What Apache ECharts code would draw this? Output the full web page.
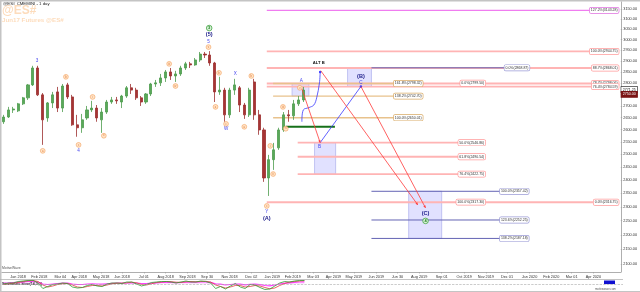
<!DOCTYPE html>
<html>
<head>
<meta charset="utf-8">
<script src="https://cdn.jsdelivr.net/npm/echarts@6.0.0/dist/echarts.min.js"></script>
<style>
html,body{margin:0;padding:0;background:#ffffff;}
#chart{width:640px;height:292px;}
</style>
</head>
<body>
<div id="chart"></div>
<script>
// ---------- weekly price bars (@ES#) ----------
const weekDates = ['2017-12-13','2017-12-20','2017-12-27','2018-01-03','2018-01-10','2018-01-17','2018-01-24','2018-01-31',
 '2018-02-07','2018-02-14','2018-02-21','2018-02-28','2018-03-07','2018-03-14','2018-03-21','2018-03-28',
 '2018-04-04','2018-04-11','2018-04-18','2018-04-25','2018-05-02','2018-05-09','2018-05-16','2018-05-23','2018-05-30',
 '2018-06-06','2018-06-13','2018-06-20','2018-06-27','2018-07-04','2018-07-11','2018-07-18','2018-07-25',
 '2018-08-01','2018-08-08','2018-08-15','2018-08-22','2018-08-29','2018-09-05','2018-09-12','2018-09-19','2018-09-26',
 '2018-10-03','2018-10-10','2018-10-17','2018-10-24','2018-10-31','2018-11-07','2018-11-14','2018-11-21','2018-11-28',
 '2018-12-05','2018-12-12','2018-12-19','2018-12-26','2019-01-02','2019-01-09','2019-01-16','2019-01-23','2019-01-30',
 '2019-02-06','2019-02-13'];
const openP  = [2633,2653,2683,2679,2709,2735,2792,2868,2748,2649,2713,2761,2691,2792,2739,2620,2608,2649,2683,2691,2641,2674,2717,2726,2717,
 2743,2779,2769,2735,2717,2752,2796,2801,2823,2850,2832,2841,2868,2887,2882,2905,2932,2928,2891,2761,2769,2662,2769,2779,2704,2662,
 2805,2662,2599,2408,2479,2526,2599,2662,2658,2709,2726];
const closeP = [2653,2683,2687,2709,2735,2792,2868,2748,2641,2713,2748,2691,2787,2739,2620,2608,2641,2683,2691,2649,2674,2717,2726,2722,2743,
 2779,2769,2735,2717,2752,2796,2801,2823,2850,2832,2841,2868,2887,2882,2905,2932,2928,2891,2761,2769,2662,2769,2792,2704,2662,2769,
 2662,2599,2408,2479,2518,2599,2662,2658,2709,2726,2769];
const lowP   = [2624,2649,2670,2674,2704,2726,2787,2743,2538,2633,2691,2674,2674,2730,2616,2571,2587,2641,2674,2633,2587,2666,2709,2709,2691,
 2735,2752,2726,2700,2709,2743,2783,2787,2805,2814,2805,2832,2859,2868,2878,2896,2914,2878,2717,2748,2633,2649,2748,2674,2645,2653,
 2641,2579,2393,2340,2439,2518,2591,2633,2641,2700,2717];
const highP  = [2662,2696,2696,2713,2739,2796,2878,2878,2756,2717,2761,2783,2796,2801,2748,2662,2666,2700,2722,2704,2691,2726,2739,2739,2748,
 2787,2796,2779,2743,2756,2801,2814,2841,2859,2868,2855,2878,2896,2896,2914,2942,2942,2946,2896,2828,2779,2779,2819,2787,2713,2779,
 2819,2683,2608,2498,2546,2608,2674,2683,2726,2743,2783];

// ---------- stochastic panel ----------
const stochK = [60,70,70,85,90,95,97,70,15,35,55,60,70,65,30,20,25,45,55,40,35,60,70,70,65,80,80,60,40,55,75,80,85,85,80,70,80,90,80,80,90,85,70,15,35,10,40,65,30,15,55,50,25,5,10,40,70,85,80,90,95,95];
const stochD = [55,62,68,75,85,92,95,85,50,30,40,55,62,65,50,30,25,35,45,45,40,50,62,68,68,72,78,72,55,50,62,75,80,85,83,78,77,82,85,82,85,87,80,50,35,20,30,45,45,30,35,45,40,25,12,20,45,65,80,85,90,93];
const stochM = [70,72,75,78,82,85,85,80,60,55,60,65,68,68,60,55,55,60,62,60,58,62,66,68,68,70,72,70,65,65,68,72,75,76,76,74,75,78,78,78,80,80,76,62,58,50,55,60,58,52,56,58,54,45,42,50,60,68,72,76,80,82];

// ---------- axes ----------
const yTickPrices = [2100,2150,2200,2250,2300,2350,2400,2450,2500,2550,2600,2650,2700,2750,2800,2850,2900,2950,3000,3050,3100,3150];
const xTickDates = ['2018-01-03','2018-02-02','2018-03-04','2018-03-31','2018-05-01','2018-05-31','2018-07-01','2018-08-01','2018-09-01','2018-09-29',
 '2018-10-31','2018-12-01','2018-12-31','2019-01-29','2019-02-27','2019-03-28','2019-04-26','2019-05-28','2019-06-27','2019-07-28',
 '2019-08-29','2019-09-30','2019-10-31','2019-11-30','2020-01-01','2020-02-01','2020-03-01','2020-04-01'];
const xTickLabels = ['Jan 2018','Feb 2018','Mar 04','Apr 2018','May 2018','Jun 2018','Jul 01','Aug 2018','Sep 2018','Sep 30',
 'Nov 2018','Dec 02','Jan 2019','Feb 2019','Mar 03','Apr 2019','May 2019','Jun 2019','Jun 30','Aug 2019',
 'Sep 01','Oct 2019','Nov 2019','Dec 01','Jan 2020','Feb 2020','Mar 01','Apr 2020'];

// ---------- Fibonacci levels ----------
const fibPrice = [3143.28,2944.75,2868.01,2798.06,2784.59,2316.75,2546.86,2490.54,2422.75,2798.32,2742.70,2650.01,2868.87,2357.42,2252.25,2187.18,2612];
const fibFrom  = ['2018-12-23','2018-12-23','2018-12-23','2018-12-23','2018-12-23','2018-12-23','2019-02-05','2019-02-05','2019-02-05',
 '2019-01-01','2019-01-01','2019-01-01','2019-05-21','2019-05-21','2019-05-21','2019-05-21','2019-01-19'];
const fibTo    = ['2020-05-07','2020-05-07','2020-05-07','2020-05-07','2020-05-07','2020-05-07','2019-10-30','2019-10-30','2019-10-30',
 '2019-08-02','2019-08-02','2019-08-02','2020-01-01','2019-12-31','2019-12-31','2019-12-31','2019-03-30'];
const fibKind  = ['magenta','pink','pink','pink','pink','pink','pink','pink','pink','tan','tan','tan','purple','purple','purple','purple','green'];

const fibLabelText  = ['127.2%(3143.28)','100.0%(2944.75)','88.7%(2868.01)','78.7%(2798.06)','76.4%(2784.59)','0.0%(2316.75)',
 '0.0%(2799.50)','50.0%(2546.86)','61.8%(2490.54)','76.4%(2422.75)','100.0%(2317.30)',
 '161.8%(2798.32)','138.2%(2742.70)','100.0%(2650.01)','0.0%(2868.87)','100.0%(2357.42)','123.6%(2252.25)','138.2%(2187.18)'];
const fibLabelPrice = [3143.28,2944.75,2868.01,2798.06,2784.59,2316.75,2799.50,2546.86,2490.54,2422.75,2317.30,2798.32,2742.70,2650.01,2868.87,2357.42,2252.25,2187.18];
const fibLabelDate  = ['2020-05-07','2020-05-07','2020-05-07','2020-05-07','2020-05-07','2020-05-07','2019-10-30','2019-10-30','2019-10-30','2019-10-30','2019-10-30',
 '2019-08-02','2019-08-02','2019-08-02','2020-01-01','2019-12-31','2019-12-31','2019-12-31'];
const fibLabelKind  = ['magenta','pink','pink','pink','pink','pink','pink','pink','pink','pink','pink','tan','tan','tan','purple','purple','purple','purple'];

// ---------- target boxes ----------
const boxFrom = ['2019-01-28','2019-03-01','2019-04-17','2019-07-13'];
const boxTo   = ['2019-02-21','2019-03-31','2019-05-21','2019-08-29'];
const boxHigh = [2798.32,2546.86,2868.87,2357.42];
const boxLow  = [2742.70,2422.75,2784.59,2187.18];

// ---------- projected paths ----------
const projKind = ['blue','blue','red','red','red'];
const projDates = [
  ['2019-02-11','2019-02-13','2019-02-21','2019-02-28','2019-03-04','2019-03-08','2019-03-09'],
  ['2019-03-09','2019-05-06'],
  ['2019-02-10','2019-03-09'],
  ['2019-03-10','2019-07-26'],
  ['2019-05-06','2019-08-06']
];
const projPrices = [
  [2633,2683,2693,2704,2735,2801,2850],
  [2547,2785],
  [2783,2547],
  [2855,2307],
  [2785,2296]
];

// ---------- wave labels ----------
const waveText  = ['3','4','5','(5)','W','X','Y','(A)','A','B','ALT B','(B)','C','(C)'];
const waveDate  = ['2018-01-30','2018-03-30','2018-10-01','2018-10-02','2018-10-26','2018-11-08','2018-12-23','2018-12-23','2019-02-10','2019-03-08','2019-03-07','2019-05-06','2019-05-06','2019-08-06'];
const wavePrice = [2900,2514,2989,3027,2604,2841,2281,2259,2812,2530,2891,2828,2801,2274];
const waveKind  = ['minor','minor','minor','major','minor','minor','minor','major','minor','minor','alt','major','minor','major'];

const circleText  = ['3','4'];
const circleDate  = ['2018-10-02','2019-08-06'];
const circlePrice = [3056,2249];

const subText  = ['a','b','c','i','ii','iii','iv','v','a','b','c','a','b','c','i','ii','iii','iv','v'];
const subDate  = ['2018-02-07','2018-03-12','2018-03-30','2018-04-19','2018-05-05','2018-08-06','2018-08-15','2018-10-01','2018-10-11','2018-10-16',
 '2018-10-26','2018-11-21','2018-12-01','2018-12-23','2018-12-28','2019-01-01','2019-01-15','2019-01-19','2019-02-08'];
const subPrice = [2514,2828,2538,2739,2575,2887,2787,2965,2696,2846,2624,2612,2832,2303,2534,2423,2696,2604,2779];

const tagPrice = [2771.25,2750.00];
const tagText  = ['2771.25','2750.00'];

// ---------- helpers ----------
const FONT = 'Liberation Sans, Arial, sans-serif';
const D = s => Date.parse(s + 'T00:00:00Z');
const xMin = D('2017-12-11'), xMax = D('2020-05-10');
const yMin = 2073.5, yMax = 3185.3;
const lineStyleOf = {
  magenta:{stroke:'#f07cf0', w:1.2, border:'#e070e0', bg:'#ffffff'},
  pink:{stroke:'#ffb4b4', w:1.8, border:'#ff9a9a', bg:'#ffffff'},
  tan:{stroke:'#e8c28c', w:1.4, border:'#d8aa66', bg:'#ffffff'},
  purple:{stroke:'#6464b4', w:1, border:'#9a9ad6', bg:'#ffffff'},
  green:{stroke:'#16701a', w:2, border:'#16701a', bg:'#ffffff'}
};
const xLabelMap = {};
xTickDates.forEach((d,i)=>{ xLabelMap[D(d)] = xTickLabels[i]; });

const candleData = weekDates.map((d,i)=>[D(d), openP[i], closeP[i], lowP[i], highP[i]]);

const option = {
  animation:false,
  backgroundColor:'#ffffff',
  textStyle:{fontFamily:FONT},
  graphic:[
    {type:'rect', left:0, top:0, shape:{width:640, height:1.5}, style:{fill:'#c4c4c4'}, silent:true},
    {type:'rect', left:0, top:0, shape:{width:1.5, height:292}, style:{fill:'#c4c4c4'}, silent:true},
    {type:'text', left:2, top:5, style:{text:'@ES#', fontSize:12, fontWeight:'bold', fill:'#fddcbc', fontFamily:FONT}, silent:true, z:0},
    {type:'text', left:2, top:17.5, style:{text:'Jun17 Futures @ES#', fontSize:6.2, fontWeight:'bold', fill:'#fddcbc', fontFamily:FONT}, silent:true, z:0},
    {type:'text', left:3, top:1.8, style:{text:'@ES# CMEMINI - 1 day', fontSize:4.3, fill:'#222', fontFamily:FONT}, silent:true},
    {type:'text', left:2, top:266.5, style:{text:'MotiveWave', fontSize:3.4, fill:'#555', fontFamily:FONT}, silent:true},
    {type:'rect', left:0, top:279, shape:{width:623, height:0.8}, style:{fill:'#b0b0b0'}, silent:true},
    {type:'rect', left:0, top:291, shape:{width:640, height:1}, style:{fill:'#c4c4c4'}, silent:true},
    {type:'text', left:2, top:281.5, style:{text:'Stochastic Slow(14,3,3)', fontSize:3.6, fontWeight:'bold', fill:'#111', fontFamily:FONT}, silent:true},
    {type:'rect', left:604, top:280.5, shape:{width:11, height:3.6}, style:{fill:'#1010d0'}, silent:true},
    {type:'text', left:595, top:287.5, style:{text:'motivewave.com', fontSize:2.8, fill:'#555', fontFamily:FONT}, silent:true}
  ],
  grid:[
    {left:2, right:17, top:2, bottom:20},
    {left:2, right:17, top:280, height:10}
  ],
  xAxis:[
    {type:'value', gridIndex:0, min:xMin, max:xMax, scale:true,
     axisLine:{lineStyle:{color:'#9a9a9a', width:0.8}},
     axisTick:{show:true, length:1.5, lineStyle:{color:'#9a9a9a', width:0.6}, customValues:xTickDates.map(D)},
     axisLabel:{customValues:xTickDates.map(D), fontSize:3.8, color:'#333', margin:2.5, fontFamily:FONT,
       formatter:v=>xLabelMap[v] || ''},
     splitLine:{show:false}},
    {type:'value', gridIndex:1, min:xMin, max:xMax, scale:true, show:false, splitLine:{show:false}}
  ],
  yAxis:[
    {type:'log', gridIndex:0, min:yMin, max:yMax, show:false, position:'right', splitLine:{show:false}},
    {type:'value', gridIndex:0, min:Math.log(yMin), max:Math.log(yMax), position:'right', scale:true,
     axisLine:{show:true, lineStyle:{color:'#9a9a9a', width:0.8}},
     axisTick:{show:true, length:1.5, lineStyle:{color:'#9a9a9a', width:0.6}, customValues:yTickPrices.map(Math.log)},
     axisLabel:{customValues:yTickPrices.map(Math.log), fontSize:3.8, color:'#333', margin:2.5, fontFamily:FONT,
       formatter:v=>Math.exp(v).toFixed(2)},
     splitLine:{show:false}},
    {type:'value', gridIndex:1, min:0, max:100, show:false, splitLine:{show:false}}
  ],
  series:[
    {type:'custom', xAxisIndex:0, yAxisIndex:0, z:1, silent:true,
     data:boxFrom.map((d,i)=>[D(d), boxHigh[i]]),
     renderItem:(params, api)=>{
       const i = params.dataIndex;
       const a = api.coord([D(boxFrom[i]), boxHigh[i]]);
       const b = api.coord([D(boxTo[i]), boxLow[i]]);
       return {type:'rect', shape:{x:a[0], y:a[1], width:b[0]-a[0], height:b[1]-a[1]},
         style:{fill:'rgba(196,196,255,0.5)', stroke:'#aeb0ec', lineWidth:0.7}};
     }},
    {type:'custom', xAxisIndex:0, yAxisIndex:0, z:2, silent:true,
     data:fibPrice.map((p,i)=>[D(fibFrom[i]), p]),
     renderItem:(params, api)=>{
       const i = params.dataIndex;
       const a = api.coord([D(fibFrom[i]), fibPrice[i]]);
       const b = api.coord([D(fibTo[i]), fibPrice[i]]);
       const st = lineStyleOf[fibKind[i]];
       return {type:'line', shape:{x1:a[0], y1:a[1], x2:b[0], y2:b[1]}, style:{stroke:st.stroke, lineWidth:st.w}};
     }},
    {type:'candlestick', xAxisIndex:0, yAxisIndex:0, z:3, barWidth:2.6, silent:true,
     data:candleData,
     itemStyle:{color:'#5aa85a', color0:'#a63434', borderColor:'#4c9c4c', borderColor0:'#9c2e2e', borderWidth:0.8}},
    {type:'custom', xAxisIndex:0, yAxisIndex:0, z:4, silent:true,
     data:projDates.map((ds,i)=>[D(ds[0]), projPrices[i][0]]),
     renderItem:(params, api)=>{
       const i = params.dataIndex;
       const pts = projDates[i].map((d,j)=>api.coord([D(d), projPrices[i][j]]));
       const col = projKind[i]==='blue' ? '#3a3aff' : '#ff3a3a';
       const children = [{type:'polyline', shape:{points:pts, smooth:pts.length>2?0.35:0}, style:{stroke:col, lineWidth:0.8, fill:null}}];
       const e = pts[pts.length-1], s = pts[pts.length-2];
       if (projKind[i]==='red') {
         const dx=e[0]-s[0], dy=e[1]-s[1], L=Math.hypot(dx,dy)||1, ux=dx/L, uy=dy/L, sz=2.4;
         children.push({type:'polygon', shape:{points:[[e[0],e[1]],[e[0]-ux*sz-uy*sz*0.5,e[1]-uy*sz+ux*sz*0.5],[e[0]-ux*sz+uy*sz*0.5,e[1]-uy*sz-ux*sz*0.5]]}, style:{fill:col}});
       } else {
         children.push({type:'circle', shape:{cx:e[0], cy:e[1], r:1.2}, style:{fill:col}});
       }
       return {type:'group', children};
     }},
    {type:'custom', xAxisIndex:0, yAxisIndex:0, z:5, silent:true,
     data:fibLabelPrice.map((p,i)=>[D(fibLabelDate[i]), p]),
     renderItem:(params, api)=>{
       const i = params.dataIndex;
       const a = api.coord([D(fibLabelDate[i]), fibLabelPrice[i]]);
       const st = lineStyleOf[fibLabelKind[i]];
       return {type:'text', x:a[0], y:a[1], style:{text:fibLabelText[i], fontSize:3.5, fill:'#333', fontFamily:FONT,
         align:'right', verticalAlign:'middle', backgroundColor:st.bg, borderColor:st.border, borderWidth:0.7,
         borderRadius:1.2, padding:[0.8,1,0.6,1]}};
     }},
    {type:'custom', xAxisIndex:0, yAxisIndex:0, z:6, silent:true,
     data:subDate.map((d,i)=>[D(d), subPrice[i]]),
     renderItem:(params, api)=>{
       const i = params.dataIndex;
       const p = api.coord([D(subDate[i]), subPrice[i]]);
       return {type:'group', children:[
         {type:'circle', shape:{cx:p[0], cy:p[1], r:2.4}, style:{fill:'#ffe4c8', stroke:'#f4a05a', lineWidth:0.6}},
         {type:'text', x:p[0], y:p[1], style:{text:subText[i], fontSize:2.6, fill:'#e0702a', align:'center', verticalAlign:'middle', fontFamily:FONT}}
       ]};
     }},
    {type:'custom', xAxisIndex:0, yAxisIndex:0, z:6, silent:true,
     data:circleDate.map((d,i)=>[D(d), circlePrice[i]]),
     renderItem:(params, api)=>{
       const i = params.dataIndex;
       const p = api.coord([D(circleDate[i]), circlePrice[i]]);
       return {type:'group', children:[
         {type:'circle', shape:{cx:p[0], cy:p[1], r:2.8}, style:{fill:'#d8f2d8', stroke:'#2f9a2f', lineWidth:0.7}},
         {type:'text', x:p[0], y:p[1]+0.2, style:{text:circleText[i], fontSize:4, fontWeight:'bold', fill:'#1f7f1f', align:'center', verticalAlign:'middle', fontFamily:FONT}}
       ]};
     }},
    {type:'custom', xAxisIndex:0, yAxisIndex:0, z:7, silent:true,
     data:waveDate.map((d,i)=>[D(d), wavePrice[i]]),
     renderItem:(params, api)=>{
       const i = params.dataIndex;
       const p = api.coord([D(waveDate[i]), wavePrice[i]]);
       const k = waveKind[i];
       const st = k==='major' ? {fontSize:5.6, fontWeight:'bold', fill:'#1c1c8a'}
                : k==='alt' ? {fontSize:4.2, fontWeight:'bold', fill:'#111'}
                : {fontSize:4.6, fontWeight:'normal', fill:'#4646ee'};
       return {type:'text', x:p[0], y:p[1], style:Object.assign({text:waveText[i], align:'center', verticalAlign:'middle', fontFamily:FONT}, st)};
     }},
    {type:'custom', xAxisIndex:0, yAxisIndex:0, z:8, silent:true, clip:false,
     data:tagPrice.map(p=>[xMax, p]),
     renderItem:(params, api)=>{
       const i = params.dataIndex;
       const p = api.coord([xMax, tagPrice[i]]);
       return {type:'text', x:p[0]+0.5, y:p[1], style:{text:tagText[i], fontSize:3.6, fontFamily:FONT,
         fill: i===0 ? '#111' : '#fff', backgroundColor: i===0 ? '#fff' : '#7a1414',
         borderColor: i===0 ? '#222' : '#7a1414', borderWidth:0.6, padding:[0.8,1.5,0.6,1.5],
         align:'left', verticalAlign:'middle'}};
     }},
    {type:'line', xAxisIndex:1, yAxisIndex:2, data:weekDates.map((d,i)=>[D(d), stochM[i]]), showSymbol:false, silent:true,
     lineStyle:{color:'#ff40ff', width:1.2}, areaStyle:{color:'rgba(255,90,255,0.25)', origin:60},
     markLine:{silent:true, symbol:'none', label:{show:false}, lineStyle:{color:'#aaaaaa', width:0.6, type:'dashed'}, data:[{yAxis:60}]}},
    {type:'line', xAxisIndex:1, yAxisIndex:2, data:weekDates.map((d,i)=>[D(d), stochD[i]]), showSymbol:false, silent:true,
     lineStyle:{color:'#e04040', width:0.8}},
    {type:'line', xAxisIndex:1, yAxisIndex:2, data:weekDates.map((d,i)=>[D(d), stochK[i]]), showSymbol:false, silent:true,
     lineStyle:{color:'#30a030', width:0.8}}
  ]
};

const chart = echarts.init(document.getElementById('chart'), null, {renderer:'canvas'});
chart.setOption(option);
</script>
</body>
</html>
